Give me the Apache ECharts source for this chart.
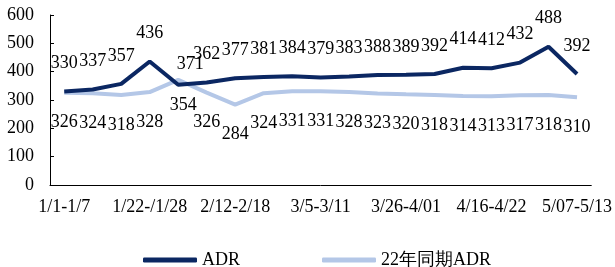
<!DOCTYPE html>
<html>
<head>
<meta charset="utf-8">
<script src="https://cdn.jsdelivr.net/npm/echarts@6/dist/echarts.min.js"></script>
<style>
  html, body { margin: 0; padding: 0; background: #fff; }
  #container { width: 615px; height: 267px; }
</style>
</head>
<body>
<div id="container"></div>
<script>
var weeks = [
  "1/1-1/7", "1/8-1/14", "1/15-1/21", "1/22-/1/28", "1/29-2/04", "2/05-2/11",
  "2/12-2/18", "2/19-2/25", "2/26-3/04", "3/5-3/11", "3/12-3/18", "3/19-3/25",
  "3/26-4/01", "4/02-4/08", "4/09-4/15", "4/16-4/22", "4/23-4/29", "4/30-5/06",
  "5/07-5/13"
];
var adr = [330, 337, 357, 436, 354, 362, 377, 381, 384, 379, 383, 388, 389, 392, 414, 412, 432, 488, 392];
var adr22 = [326, 324, 318, 328, 371, 326, 284, 324, 331, 331, 328, 323, 320, 318, 314, 313, 317, 318, 310];

var dom = document.getElementById("container");
var myChart = echarts.init(dom);
var font = "Liberation Serif";

// ADR labels sit above, except the dip at week 5 which goes below
var adrData = adr.map(function (v, i) {
  if (i === 4) {
    return { value: v, label: { position: "bottom", distance: 12, offset: [5, 0] } };
  }
  return v;
});
// last year's labels sit below, except its peak at week 5
var adr22Data = adr22.map(function (v, i) {
  if (i === 4) {
    return { value: v, label: { position: "top", distance: 7, offset: [12, 0] } };
  }
  return v;
});

var option = {
  animation: false,
  textStyle: { fontFamily: font },
  grid: { left: 50, right: 23, top: 15, bottom: 82 },
  legend: {
    top: 246,
    left: 138,
    itemWidth: 54,
    itemHeight: 5,
    itemGap: 82,
    textStyle: { fontFamily: font, fontSize: 18, color: "#000" },
    data: [
      { name: "ADR", icon: "roundRect" },
      { name: "22年同期ADR", icon: "roundRect" }
    ]
  },
  xAxis: {
    type: "category",
    data: weeks,
    boundaryGap: true,
    axisLine: { lineStyle: { color: "#000", width: 1 } },
    axisTick: { inside: true, length: 5, lineStyle: { color: "#000" }, interval: 0 },
    axisLabel: { interval: 2, color: "#000", fontSize: 18, fontFamily: font, margin: 13 }
  },
  yAxis: {
    type: "value",
    min: 0,
    max: 600,
    interval: 100,
    splitLine: { show: false },
    axisLine: { show: true, lineStyle: { color: "#000", width: 1 } },
    axisTick: { show: true, inside: true, length: 4, lineStyle: { color: "#000" } },
    axisLabel: { color: "#000", fontSize: 18, fontFamily: font, margin: 16 }
  },
  series: [
    {
      name: "ADR",
      type: "line",
      data: adrData,
      symbol: "circle",
      symbolSize: 0,
      showSymbol: true,
      lineStyle: { color: "#0b2762", width: 4 },
      itemStyle: { color: "#0b2762" },
      label: {
        show: true,
        position: "top",
        distance: 19,
        color: "#000",
        fontSize: 18,
        fontFamily: font
      },
      z: 3
    },
    {
      name: "22年同期ADR",
      type: "line",
      data: adr22Data,
      symbol: "circle",
      symbolSize: 0,
      showSymbol: true,
      lineStyle: { color: "#b4c7e7", width: 4 },
      itemStyle: { color: "#b4c7e7" },
      label: {
        show: true,
        position: "bottom",
        distance: 21,
        color: "#000",
        fontSize: 18,
        fontFamily: font
      },
      z: 2
    }
  ]
};

myChart.setOption(option);
</script>
</body>
</html>
